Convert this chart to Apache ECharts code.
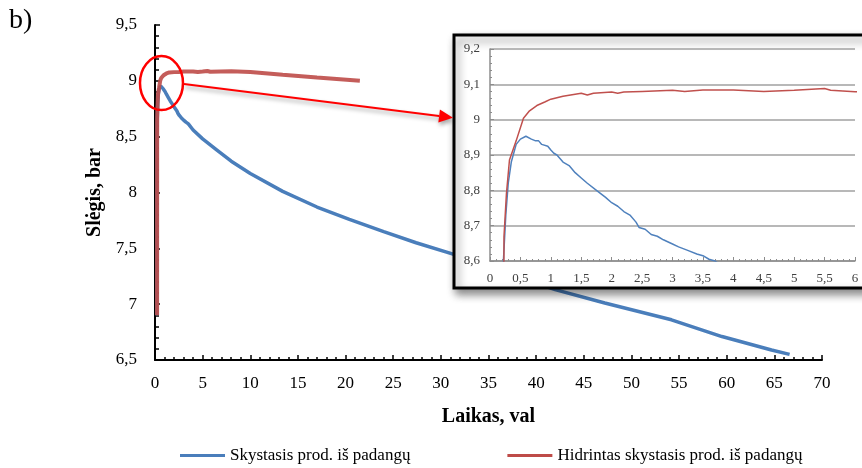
<!DOCTYPE html>
<html>
<head>
<meta charset="utf-8">
<script src="https://cdn.jsdelivr.net/npm/echarts@6/dist/echarts.min.js"></script>
<style>
  html, body { margin: 0; padding: 0; background: #fff; }
  #chart { width: 862px; height: 468px; }
</style>
</head>
<body>
<div id="chart"></div>
<script>
// Pressure over time for the two tyre-derived liquid products
const seriesNames = ['Skystasis prod. iš padangų', 'Hidrintas skystasis prod. iš padangų'];

// Liquid product (time, h / pressure, bar)
const timeLiquid = [0.2, 0.21, 0.22, 0.26, 0.3, 0.35, 0.43, 0.5, 0.59, 0.68, 0.75, 0.8, 0.85, 0.95, 1.0, 1.05, 1.1, 1.2, 1.3, 1.4, 1.5, 1.6, 1.75, 1.9, 2.0, 2.1, 2.2, 2.3, 2.4, 2.45, 2.55, 2.65, 2.75, 2.85, 3.0, 3.1, 3.25, 3.4, 3.5, 3.6, 3.7, 4.0, 5.0, 6.5, 8.0, 10.0, 13.4, 17.0, 20.4, 24.0, 27.4, 31.2, 36.0, 42.0, 47.2, 54.2, 59.5, 64.7, 66.6];
const pressureLiquid = [6.9, 8.3, 8.6, 8.73, 8.82, 8.88, 8.93, 8.945, 8.953, 8.945, 8.94, 8.94, 8.93, 8.925, 8.914, 8.905, 8.9, 8.88, 8.87, 8.85, 8.835, 8.82, 8.8, 8.78, 8.765, 8.755, 8.74, 8.73, 8.71, 8.695, 8.69, 8.675, 8.67, 8.66, 8.648, 8.64, 8.63, 8.62, 8.615, 8.605, 8.6, 8.56, 8.48, 8.38, 8.28, 8.17, 8.01, 7.87, 7.76, 7.65, 7.55, 7.45, 7.3, 7.13, 7.01, 6.86, 6.71, 6.59, 6.55];

// Hydrogenated liquid product (time, h / pressure, bar)
const timeHydro = [0.22, 0.225, 0.23, 0.27, 0.32, 0.43, 0.55, 0.65, 0.77, 0.9, 1.0, 1.2, 1.4, 1.5, 1.6, 1.7, 2.0, 2.1, 2.2, 2.5, 3.0, 3.2, 3.5, 4.0, 4.5, 5.0, 5.5, 5.6, 5.8, 6.0, 8.0, 10.0, 13.4, 17.0, 21.5];
const pressureHydro = [6.9, 8.4, 8.67, 8.79, 8.886, 8.94, 9.004, 9.025, 9.04, 9.05, 9.058, 9.066, 9.072, 9.075, 9.07, 9.075, 9.078, 9.075, 9.078, 9.08, 9.083, 9.08, 9.084, 9.084, 9.08, 9.083, 9.088, 9.083, 9.081, 9.079, 9.085, 9.08, 9.055, 9.03, 9.0];

// Main axis ticks
const mainXTicks = { min: 0, max: 70, step: 5 };
const mainYTicks = { min: 6.5, max: 9.5, step: 0.5 };
// Zoomed panel ticks
const zoomXTicks = { min: 0, max: 6, step: 0.5 };
const zoomYTicks = { min: 8.6, max: 9.2, step: 0.1 };

const pairs = (xs, ys) => xs.map((x, i) => [x, ys[i]]);
const comma = v => String(+v.toFixed(2)).replace('.', ',');

const FONT = 'Liberation Serif';
const BLUE = '#4a7ebb';
const RED = '#be4b48';

// layout
const main = { left: 155, right: 40, top: 25, bottom: 108 };
const zoom = { left: 490, top: 49, width: 365, height: 212 };
const box = { x: 454, y: 35, w: 420, h: 253 };

const chart = echarts.init(document.getElementById('chart'), null, { renderer: 'canvas' });

const option = {
  animation: false,
  backgroundColor: '#fff',
  textStyle: { fontFamily: FONT },
  grid: [
    { left: main.left, right: main.right, top: main.top, bottom: main.bottom },
    { left: zoom.left, top: zoom.top, width: zoom.width, height: zoom.height }
  ],
  legend: {
    left: 180,
    top: 447,
    padding: 0,
    icon: 'rect',
    itemWidth: 45,
    itemHeight: 3,
    itemGap: 97,
    data: seriesNames,
    textStyle: { fontFamily: FONT, fontSize: 17, color: '#000' }
  },
  xAxis: [
    {
      gridIndex: 0, type: 'value', z: 0,
      min: mainXTicks.min, max: mainXTicks.max, interval: mainXTicks.step,
      name: 'Laikas, val', nameLocation: 'middle', nameGap: 47,
      nameTextStyle: { fontFamily: FONT, fontSize: 20, fontWeight: 'bold', color: '#000' },
      axisLine: { lineStyle: { color: '#000', width: 2 } },
      axisTick: { inside: true, length: 5, lineStyle: { color: '#000', width: 1.5 } },
      minorTick: { show: true, splitNumber: 5, length: 3, lineStyle: { color: '#000', width: 1.5 } },
      splitLine: { show: false },
      axisLabel: { fontFamily: FONT, fontSize: 17, color: '#000', margin: 15, formatter: comma }
    },
    {
      gridIndex: 1, type: 'value', z: 6,
      min: zoomXTicks.min, max: zoomXTicks.max, interval: zoomXTicks.step,
      axisLine: { lineStyle: { color: '#8c8c8c', width: 1.5 } },
      axisTick: { inside: true, length: 4, lineStyle: { color: '#8c8c8c' } },
      minorTick: { show: true, splitNumber: 5, length: 2, lineStyle: { color: '#8c8c8c' } },
      splitLine: { show: false },
      axisLabel: { fontFamily: FONT, fontSize: 13, color: '#404040', margin: 11, formatter: comma }
    }
  ],
  yAxis: [
    {
      gridIndex: 0, type: 'value', z: 0,
      min: mainYTicks.min, max: mainYTicks.max, interval: mainYTicks.step,
      name: 'Slėgis, bar', nameLocation: 'middle', nameGap: 49, nameRotate: 90,
      nameTextStyle: { fontFamily: FONT, fontSize: 20, fontWeight: 'bold', color: '#000' },
      axisLine: { lineStyle: { color: '#000', width: 2 } },
      axisTick: { inside: true, length: 5, lineStyle: { color: '#000', width: 1.5 } },
      minorTick: { show: true, splitNumber: 5, length: 4, lineStyle: { color: '#000', width: 1.5 } },
      splitLine: { show: false },
      axisLabel: { fontFamily: FONT, fontSize: 17, color: '#000', margin: 18, formatter: comma }
    },
    {
      gridIndex: 1, type: 'value', z: 6,
      min: zoomYTicks.min, max: zoomYTicks.max, interval: zoomYTicks.step,
      axisLine: { show: true, lineStyle: { color: '#8c8c8c', width: 1.5 } },
      axisTick: { show: true, inside: true, length: 4, lineStyle: { color: '#8c8c8c' } },
      minorTick: { show: true, splitNumber: 5, length: 2, lineStyle: { color: '#8c8c8c' } },
      splitLine: { show: true, lineStyle: { color: '#a0a0a0', width: 1.5 } },
      axisLabel: { fontFamily: FONT, fontSize: 13, color: '#404040', margin: 10, formatter: comma }
    }
  ],
  series: [
    {
      name: seriesNames[0], type: 'line', xAxisIndex: 0, yAxisIndex: 0, z: 2,
      data: pairs(timeLiquid, pressureLiquid), showSymbol: false, symbol: 'none',
      lineStyle: { color: BLUE, width: 3.5 }, itemStyle: { color: BLUE }
    },
    {
      name: seriesNames[1], type: 'line', xAxisIndex: 0, yAxisIndex: 0, z: 2,
      data: pairs(timeHydro, pressureHydro), showSymbol: false, symbol: 'none',
      lineStyle: { color: RED, width: 4, opacity: 0.9 }, itemStyle: { color: RED }
    },
    {
      name: seriesNames[0], type: 'line', xAxisIndex: 1, yAxisIndex: 1, z: 7, clip: true,
      data: pairs(timeLiquid, pressureLiquid), showSymbol: false, symbol: 'none',
      lineStyle: { color: '#4f81bd', width: 1.5 }, itemStyle: { color: BLUE }
    },
    {
      name: seriesNames[1], type: 'line', xAxisIndex: 1, yAxisIndex: 1, z: 7, clip: true,
      data: pairs(timeHydro, pressureHydro), showSymbol: false, symbol: 'none',
      lineStyle: { color: '#c0504d', width: 1.5 }, itemStyle: { color: RED }
    }
  ]
};
chart.setOption(option);

// Highlight ring around the peak region and the arrow pointing into the zoomed panel
const ringCenter = chart.convertToPixel({ gridIndex: 0 }, [0.68, 8.98]);
const ring = { rx: 21.5, ry: 27 };
const target = chart.convertToPixel({ gridIndex: 1 }, [0, 9.0]);
const start = [ringCenter[0] + ring.rx + 1, ringCenter[1] + 1];
const tip = [box.x - 1, target[1] - 2];
const ang = Math.atan2(tip[1] - start[1], tip[0] - start[0]);
const headLen = 14, headHalf = 6.5;
const base = [tip[0] - headLen * Math.cos(ang), tip[1] - headLen * Math.sin(ang)];
const nx = -Math.sin(ang), ny = Math.cos(ang);
const arrowShadow = { shadowBlur: 4, shadowOffsetX: 1, shadowOffsetY: 3, shadowColor: 'rgba(0,0,0,0.35)' };

chart.setOption({
  graphic: [
    {
      type: 'text', left: 9, top: 7, z: 10,
      style: { text: 'b)', font: '28px "Liberation Serif"', fill: '#000' }
    },
    {
      type: 'rect', z: 5,
      shape: { x: box.x, y: box.y, width: box.w, height: box.h },
      style: {
        fill: '#fff', stroke: '#000', lineWidth: 3,
        shadowBlur: 8, shadowOffsetX: 3, shadowOffsetY: 5, shadowColor: 'rgba(0,0,0,0.45)'
      }
    },
    {
      type: 'ellipse', z: 10,
      shape: { cx: ringCenter[0], cy: ringCenter[1], rx: ring.rx, ry: ring.ry },
      style: { fill: 'none', stroke: '#ff0000', lineWidth: 2.5 }
    },
    {
      type: 'line', z: 10,
      shape: { x1: start[0], y1: start[1], x2: base[0], y2: base[1] },
      style: Object.assign({ stroke: '#ff0000', lineWidth: 2 }, arrowShadow)
    },
    {
      type: 'polygon', z: 10,
      shape: { points: [tip, [base[0] + nx * headHalf, base[1] + ny * headHalf], [base[0] - nx * headHalf, base[1] - ny * headHalf]] },
      style: Object.assign({ fill: '#ff0000' }, arrowShadow)
    }
  ]
});
</script>
</body>
</html>
